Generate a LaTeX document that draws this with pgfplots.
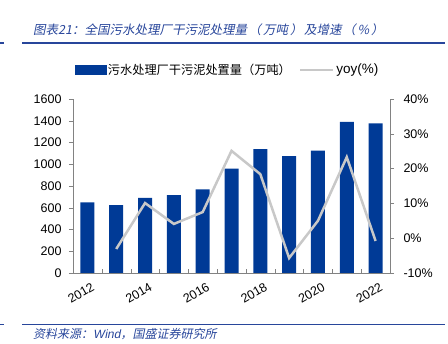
\documentclass[border=0pt]{standalone}
\usepackage{fontspec}
\setmainfont{Liberation Sans}
\newfontfamily\cjk{Noto Sans CJK SC}
\newfontfamily\cjkit[FakeSlant=0.2]{Noto Sans CJK SC}
\newfontfamily\latit[FakeSlant=0.2]{Liberation Sans}
\usepackage{pgfplots}
\pgfplotsset{compat=1.18}
\definecolor{barblue}{RGB}{0,58,150}
\definecolor{titleblue}{RGB}{40,70,155}
\definecolor{lgray}{RGB}{200,200,200}
\definecolor{axgray}{RGB}{130,130,130}
\newcommand{\lp}{\hspace{1.5pt}（\hspace{2pt}}
\newcommand{\rp}{\hspace{2pt}）\hspace{1.5pt}}
\begin{document}
\begin{tikzpicture}[x=1pt,y=1pt]
\useasboundingbox (0,0) rectangle (448,344);
\draw[titleblue, line width=1.3pt] (22,301) -- (445,301);
\draw[titleblue, line width=1.3pt] (0,301) -- (4,301);
\node[anchor=base west, inner sep=0, text=titleblue, font=\fontsize{12.5}{14}\selectfont] at (33,309) {\cjkit 图表21：全国污水处理厂干污泥处理量\lp 万吨\rp 及增速\lp\%\rp};
\draw[titleblue, line width=1pt] (22,19) -- (445,19);
\draw[titleblue, line width=1pt] (0,19) -- (4,19);
\node[anchor=base west, inner sep=0, text=titleblue, font=\fontsize{12}{13}\selectfont] at (33,5) {\cjkit 资料来源：\latit Wind\cjkit ，国盛证券研究所};
\begin{axis}[
  at={(73pt,71pt)}, anchor=south west, scale only axis,
  width=317pt, height=174pt,
  xmin=-0.5, xmax=10.5, ymin=0, ymax=1600,
  ytick={0,200,...,1600},
  axis x line*=bottom, axis y line*=left,
  axis line style={-, draw=axgray},
  tick pos=left,
  xtick={0,2,...,10},
  xticklabels={2012,2014,2016,2018,2020,2022},
  major x tick style={draw=none},
  minor xtick={0.5,1.5,...,9.5},
  xtick align=inside, ytick align=outside,
  minor tick length=4pt, major tick length=4pt,
  tick style={draw=axgray},
  /pgf/number format/assume math mode=true,
  /pgf/number format/1000 sep={},
  ticklabel style={font=\fontsize{12.5}{14}\selectfont},
  xticklabel style={rotate=30, anchor=east, yshift=-14pt, xshift=2pt},
  yticklabel style={xshift=-4pt},
]
\addplot[ybar, bar width=14pt, fill=barblue, draw=none] coordinates {
(0,650) (1,625) (2,690) (3,715) (4,770) (5,960) (6,1140) (7,1075) (8,1125) (9,1390) (10,1375)};
\end{axis}
\begin{axis}[
  at={(73pt,71pt)}, anchor=south west, scale only axis,
  width=317pt, height=174pt,
  xmin=-0.5, xmax=10.5, ymin=-10, ymax=40,
  ytick={-10,0,...,40},
  axis x line=none, axis y line*=right,
  axis line style={-, draw=axgray},
  ytick align=outside, major tick length=4pt,
  tick style={draw=axgray},
  /pgf/number format/assume math mode=true,
  yticklabel={\pgfmathprintnumber{\tick}\%},
  ticklabel style={font=\fontsize{12.5}{14}\selectfont},
  yticklabel style={xshift=6pt},
  legend style={at={(0.5,1)}, anchor=south, xshift=-4pt, yshift=19pt, draw=none, fill=none,
    legend columns=2, font=\fontsize{12.2}{14}\selectfont,
    /tikz/every even column/.append style={column sep=6pt}},
  legend cell align=left,
]
\addlegendimage{legend image code/.code={\fill[barblue] (0pt,-4.5pt) rectangle (31pt,4.5pt);}}
\addlegendentry{\cjk 污水处理厂干污泥处置量（万吨）}
\addplot[lgray, line width=2.5pt, legend image code/.code={\draw[lgray,line width=2.5pt] (0pt,0pt)--(33pt,0pt);}] coordinates {
(1,-3.1) (2,10.1) (3,4.1) (4,7.5) (5,25.1) (6,18.4) (7,-5.7) (8,5.0) (9,23.3) (10,-0.8)};
\addlegendentry{\fontsize{13.5}{15}\selectfont yoy(\%)}
\end{axis}
\end{tikzpicture}
\end{document}
